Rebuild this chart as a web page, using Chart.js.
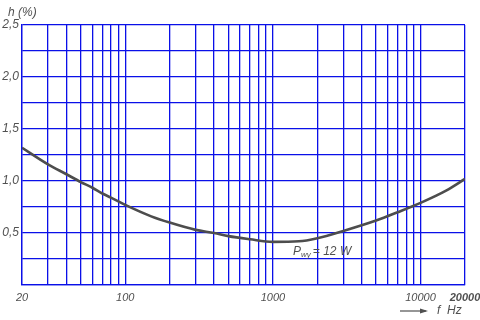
<!DOCTYPE html>
<html>
<head>
<meta charset="utf-8">
<script src="https://cdn.jsdelivr.net/npm/chart.js@4/dist/chart.umd.min.js"></script>
<style>
  body { margin: 0; background: #fff; }
  #wrap { width: 480px; height: 320px; }
</style>
</head>
<body>
<div id="wrap"><canvas id="hChart" width="480" height="320"></canvas></div>
<script>
// frequency (Hz) and distortion h (%)
const freqs = [20, 30, 40, 50, 60, 70, 80, 100, 150, 200, 300, 400, 500, 700, 1000, 1500, 2000, 3000, 5000, 7000, 10000, 15000, 20000];
const distortion = [1.32, 1.16, 1.065, 0.99, 0.935, 0.88, 0.84, 0.77, 0.66, 0.60, 0.53, 0.50, 0.47, 0.44, 0.415, 0.42, 0.45, 0.52, 0.62, 0.70, 0.79, 0.91, 1.02];

// grid positions on the log axis and which of them carry a label
const gridFreqs = [20, 30, 40, 50, 60, 70, 80, 90, 100,
    200, 300, 400, 500, 600, 700, 800, 900, 1000,
    2000, 3000, 4000, 5000, 6000, 7000, 8000, 9000, 10000, 20000];
const labelledFreqs = [20, 100, 1000, 10000, 20000];

const BLUE = "#0a10e8";
const TEXT = "#505050";
const FONT = "'Liberation Sans', Arial, sans-serif";

const data = {
    datasets: [
        {
            data: freqs.map((f, i) => ({ x: f, y: distortion[i] })),
            borderColor: "#4d4d4d",
            borderWidth: 2.6,
            pointRadius: 0,
            cubicInterpolationMode: "monotone",
            fill: false,
        },
    ],
};

// axis names and the power note
const textPlugin = {
    id: "textPlugin",
    afterDraw(chart) {
        const ctx = chart.ctx;
        const x = chart.scales.x;
        const y = chart.scales.y;
        ctx.save();
        ctx.fillStyle = TEXT;
        ctx.strokeStyle = TEXT;
        ctx.textBaseline = "middle";
        ctx.font = "italic 12px " + FONT;
        ctx.fillText("h (%)", 8, 13);

        // arrow + f Hz
        ctx.lineWidth = 1.2;
        ctx.beginPath();
        ctx.moveTo(400, 311);
        ctx.lineTo(426, 311);
        ctx.stroke();
        ctx.beginPath();
        ctx.moveTo(428, 311);
        ctx.lineTo(420, 308.5);
        ctx.lineTo(420, 313.5);
        ctx.closePath();
        ctx.fill();
        ctx.font = "italic 12px " + FONT;
        ctx.fillText("f  Hz", 437, 311);

        // P_wy = 12 W
        const px = x.getPixelForValue(1370);
        const py = y.getPixelForValue(0.32);
        ctx.font = "italic 12px " + FONT;
        ctx.fillText("P", px, py);
        let w = ctx.measureText("P").width;
        ctx.font = "italic 8px " + FONT;
        ctx.fillText("wy", px + w, py + 3);
        w += ctx.measureText("wy").width;
        ctx.font = "italic 12px " + FONT;
        ctx.fillText("= 12 W", px + w + 2, py);
        ctx.restore();
    },
};

const config = {
    type: "line",
    data: data,
    options: {
        responsive: false,
        animation: false,
        devicePixelRatio: 1,
        layout: {
            padding: { top: 25, right: 15, bottom: 0, left: 0 },
        },
        plugins: {
            legend: { display: false },
            tooltip: { enabled: false },
        },
        scales: {
            x: {
                type: "logarithmic",
                min: 20,
                max: 20000,
                afterBuildTicks: (scale) => {
                    scale.ticks = gridFreqs.map((v) => ({ value: v }));
                },
                afterFit: (scale) => {
                    scale.height = 35;
                    scale.paddingLeft = 0;
                    scale.paddingRight = 0;
                },
                grid: {
                    color: BLUE,
                    lineWidth: 1.3,
                    drawTicks: false,
                },
                border: { color: BLUE, width: 1.3 },
                ticks: {
                    autoSkip: false,
                    maxRotation: 0,
                    padding: 6,
                    color: TEXT,
                    font: (ctx) => ({
                        family: FONT,
                        size: 11,
                        style: "italic",
                        weight: ctx.tick && ctx.tick.value === 20000 ? "bold" : "normal",
                    }),
                    callback: (value) => (labelledFreqs.includes(value) ? String(value) : ""),
                },
            },
            y: {
                min: 0,
                max: 2.5,
                afterFit: (scale) => {
                    scale.width = 22;
                },
                grid: {
                    color: BLUE,
                    lineWidth: 1.3,
                    drawTicks: false,
                },
                border: { color: BLUE, width: 1.3 },
                ticks: {
                    stepSize: 0.25,
                    padding: 3,
                    color: TEXT,
                    font: { family: FONT, size: 12, style: "italic" },
                    callback: (value) => {
                        const q = Math.round(value * 4);
                        return q > 0 && q % 2 === 0 ? value.toFixed(1).replace(".", ",") : "";
                    },
                },
            },
        },
    },
    plugins: [textPlugin],
};

new Chart(document.getElementById("hChart"), config);
</script>
</body>
</html>
